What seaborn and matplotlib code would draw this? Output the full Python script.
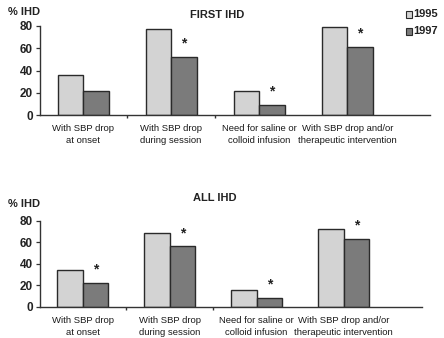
import matplotlib
matplotlib.use("Agg")
import matplotlib.pyplot as plt
import seaborn as sns
import pandas as pd

categories = ["With SBP drop\nat onset", "With SBP drop\nduring session",
              "Need for saline or\ncolloid infusion",
              "With SBP drop and/or\ntherapeutic intervention"]
years = ["1995", "1997"]
first_1995 = [36, 77, 22, 79]
first_1997 = [22, 52, 9, 61]
first_sig = [False, True, True, True]
all_1995 = [34, 69, 16, 72]
all_1997 = [22, 56, 8, 63]
all_sig = [True, True, True, True]
yticks = [0, 20, 40, 60, 80]

sns.set_theme(style="white")
plt.rcParams['font.family'] = ['Liberation Sans', 'DejaVu Sans']

colors = {"1995": "#d3d3d3", "1997": "#7b7b7b"}

fig = plt.figure(figsize=(4.44, 3.38), dpi=100)
ax1 = fig.add_axes([40/444, 1-115/338, 390/444, 89/338])
ax2 = fig.add_axes([40/444, 1-306.7/338, 382/444, 86/338])


def panel(ax, v95, v97, sig, xr):
    df = pd.DataFrame({
        "cat": categories * 2,
        "year": [years[0]] * 4 + [years[1]] * 4,
        "val": list(v95) + list(v97),
    })
    sns.barplot(data=df, x="cat", y="val", hue="year", palette=colors,
                width=0.58, edgecolor="#2a2a2a", linewidth=1.0, ax=ax,
                legend=False, saturation=1)
    ax.set_xlim(-0.49, xr)
    ax.set_ylim(0, 80)
    ax.set_yticks(yticks)
    ax.set_yticklabels([str(t) for t in yticks], fontsize=8.5, fontweight="bold",
                       color="#222222")
    ax.set_xticks(range(len(categories)))
    ax.set_xticklabels(categories, fontsize=6.8, color="#1a1a1a", linespacing=1.4)
    ax.tick_params(axis="x", length=0, pad=6.5)
    ax.tick_params(axis="y", direction="out", length=3, width=0.9, color="#333333",
                   left=True, pad=2)
    ax.set_xticks([0.5, 1.5], minor=True)
    ax.tick_params(axis="x", which="minor", direction="out", length=2.5, bottom=True,
                   color="#333333")
    sns.despine(ax=ax, top=True, right=True)
    for s in ["left", "bottom"]:
        ax.spines[s].set_color("#333333")
        ax.spines[s].set_linewidth(1.0)
    ax.set_xlabel("")
    ax.set_ylabel("")
    for i, (v, s) in enumerate(zip(v97, sig)):
        if s:
            ax.text(i + 0.145, v + 6, "*", ha="center", va="bottom", fontsize=10,
                    fontweight="bold", color="#222222")


panel(ax1, first_1995, first_1997, first_sig, 3.94)
panel(ax2, all_1995, all_1997, all_sig, 3.9)

fig.text(217/444, 1-15/338, "FIRST IHD", fontsize=8, fontweight="bold",
         color="#222222", ha="center", va="center")
fig.text(215/444, 1-198/338, "ALL IHD", fontsize=8, fontweight="bold",
         color="#222222", ha="center", va="center")

fig.text(8/444, 1-12/338, "% IHD", fontsize=8, fontweight="bold", color="#222222",
         va="center", ha="left")
fig.text(8/444, 1-204/338, "% IHD", fontsize=8, fontweight="bold", color="#222222",
         va="center", ha="left")

for i, y in enumerate(years):
    yy = 1 - (14 + 17 * i) / 338
    fig.patches.append(plt.Rectangle((406/444, yy - 3.5/338), 6/444, 7/338,
                                     transform=fig.transFigure,
                                     facecolor=colors[y], edgecolor="#2a2a2a",
                                     linewidth=0.8))
    fig.text(413/444, yy, y, fontsize=8, fontweight="bold", color="#222222",
             va="center", ha="left")

fig.savefig("out.png", dpi=100)
